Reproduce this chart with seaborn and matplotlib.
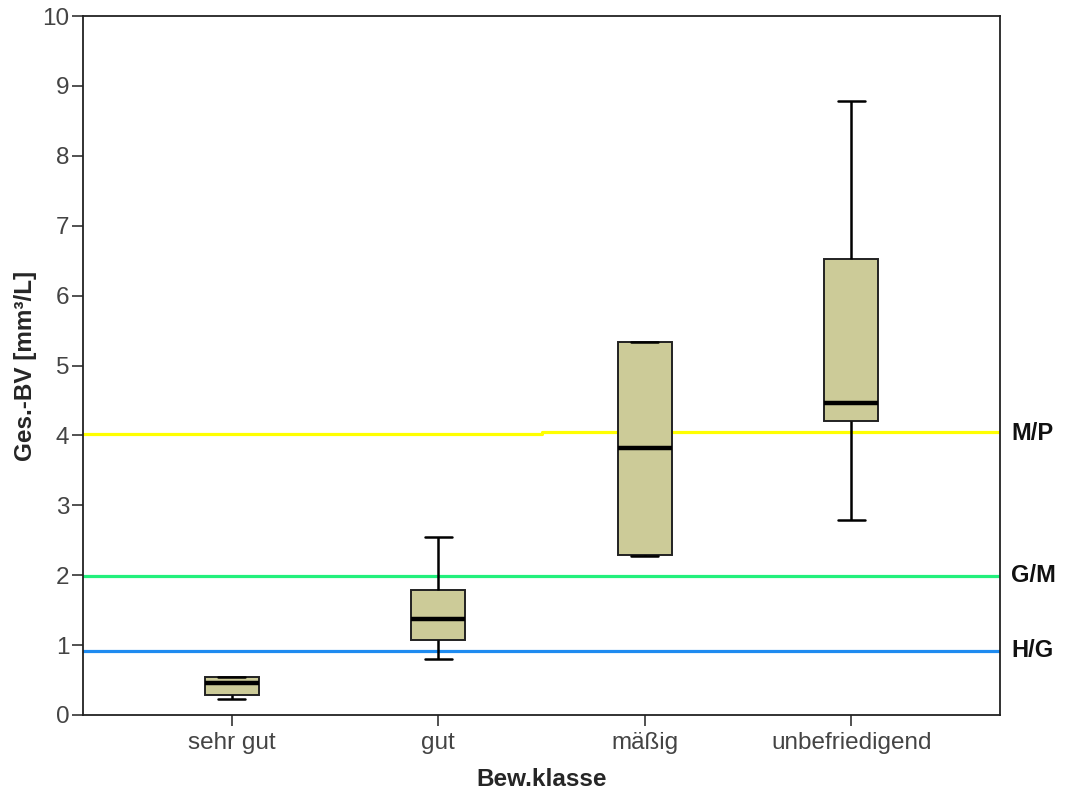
import numpy as np
import pandas as pd
import matplotlib
matplotlib.use("Agg")
import matplotlib.pyplot as plt
import seaborn as sns

# five-number summaries: min, q1, median, q3, max
categories = ["sehr gut", "gut", "mäßig", "unbefriedigend"]
sehr_gut = [0.23, 0.29, 0.46, 0.54, 0.55]
gut = [0.80, 1.07, 1.37, 1.79, 2.55]
maessig = [2.28, 2.29, 3.82, 5.34, 5.34]
unbefriedigend = [2.79, 4.21, 4.46, 6.52, 8.78]

# class boundaries
boundary_labels = ["H/G", "G/M", "M/P"]
boundary_values = [0.92, 1.99, 4.03]
boundary_colors = ["#1E8BF0", "#22F07C", "#FFFF00"]

yticks = list(range(0, 11))

df = pd.DataFrame({
    "Bew.klasse": np.repeat(categories, 5),
    "value": sehr_gut + gut + maessig + unbefriedigend,
})

sns.set_theme(style="ticks")
plt.rcParams["font.family"] = ["Liberation Sans", "DejaVu Sans"]

fig = plt.figure(figsize=(10.65, 8.02), dpi=100)
ax = fig.add_axes([0.078, 0.1085, 0.861, 0.8715])

# boundary lines first so the boxes sit on top
for lab, val, col in zip(boundary_labels, boundary_values, boundary_colors):
    if lab == "M/P":
        # the yellow line has a small step in the middle
        ax.axhline(val - 0.01, xmin=0, xmax=0.5, color=col, lw=2.3, zorder=1)
        ax.axhline(val + 0.02, xmin=0.5, xmax=1, color=col, lw=2.3, zorder=1)
    else:
        ax.axhline(val, color=col, lw=2.3, zorder=1)
    ax.text(1.012, val, lab, transform=ax.get_yaxis_transform(),
            ha="left", va="center", fontsize=17, fontweight="bold", color="#111111")

sns.boxplot(data=df, x="Bew.klasse", y="value", order=categories, ax=ax,
            whis=(0, 100), width=0.26, color="#CCCB98", saturation=1,
            linecolor="#222222", linewidth=1.4,
            medianprops=dict(color="black", linewidth=3.2, zorder=4),
            whiskerprops=dict(color="black", linewidth=1.8),
            capprops=dict(color="black", linewidth=1.8))

ax.set_xlim(-0.72, 3.72)
ax.set_ylim(0, 10)
ax.set_yticks(yticks)
ax.set_yticklabels([str(t) for t in yticks])

ax.set_xlabel("Bew.klasse", fontsize=17.5, fontweight="bold", labelpad=10)
ax.set_ylabel("Ges.-BV [mm³/L]", fontsize=17.5, fontweight="bold", labelpad=4)
ax.tick_params(axis="both", direction="out", length=8, width=1.2,
               colors="#333333", labelsize=17.5, labelcolor="#444444", pad=2)
ax.tick_params(axis="x", pad=4)

for sp in ax.spines.values():
    sp.set_visible(True)
    sp.set_color("#222222")
    sp.set_linewidth(1.3)

fig.savefig("out.png", dpi=100)
